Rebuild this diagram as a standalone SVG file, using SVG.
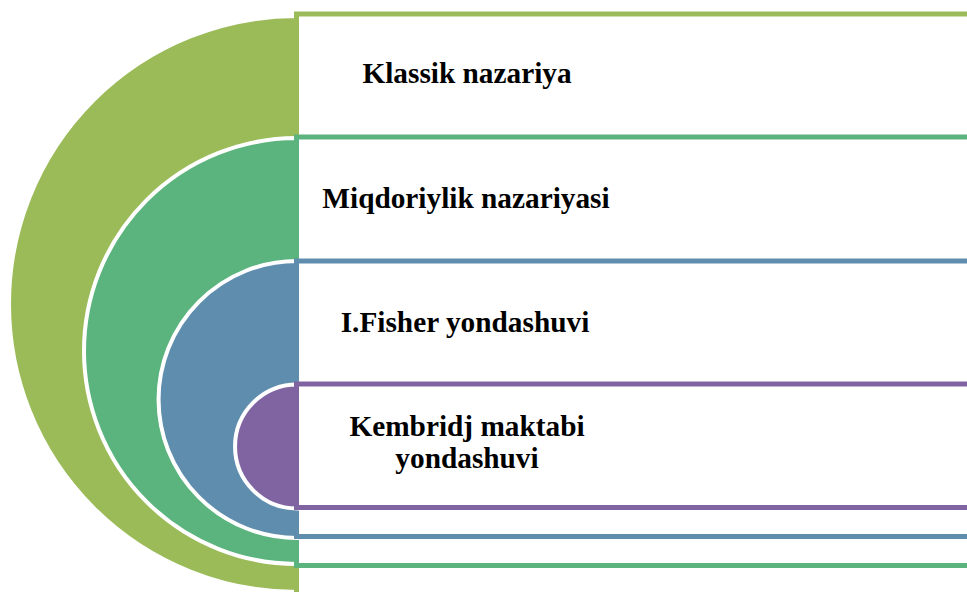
<svg xmlns="http://www.w3.org/2000/svg" width="967" height="592" viewBox="0 0 967 592">
<style>
.disc{stroke:#fff;stroke-width:4}
.box{fill:#fff;stroke-width:5}
.lbl{font-family:"Liberation Serif","Times New Roman",serif;font-weight:bold;font-size:29.3px;fill:#000;text-anchor:middle}
</style>
<rect width="967" height="592" fill="#fff"/>
<g id="node-klassik">
<path class="disc" fill="#9BBB59" d="M297,16 A288,288 0 0 0 297,592 Z"/>
<rect class="box" stroke="#9BBB59" x="296.5" y="14" width="700" height="600"/>
<text class="lbl" x="467" y="83">Klassik nazariya</text>
</g>
<g id="node-miqdoriylik">
<path class="disc" fill="#5BB47D" d="M297,138 A213,213 0 0 0 297,564 Z"/>
<rect class="box" stroke="#5BB47D" x="296.5" y="137" width="700" height="428.5"/>
<text class="lbl" x="466" y="208">Miqdoriylik nazariyasi</text>
</g>
<g id="node-fisher">
<path class="disc" fill="#5F8DAE" d="M297,261 A138.5,138.5 0 0 0 297,538 Z"/>
<rect class="box" stroke="#5F8DAE" x="296.5" y="261" width="700" height="275.5"/>
<text class="lbl" x="465" y="332">I.Fisher yondashuvi</text>
</g>
<g id="node-kembridj">
<path class="disc" fill="#8064A2" d="M297,384.5 A62,62 0 0 0 297,508.5 Z"/>
<rect class="box" stroke="#8064A2" x="296.5" y="384" width="700" height="123.5"/>
<text class="lbl" x="467" y="436">Kembridj maktabi</text>
<text class="lbl" x="467" y="468">yondashuvi</text>
</g>
<g id="connectors"></g>
</svg>
